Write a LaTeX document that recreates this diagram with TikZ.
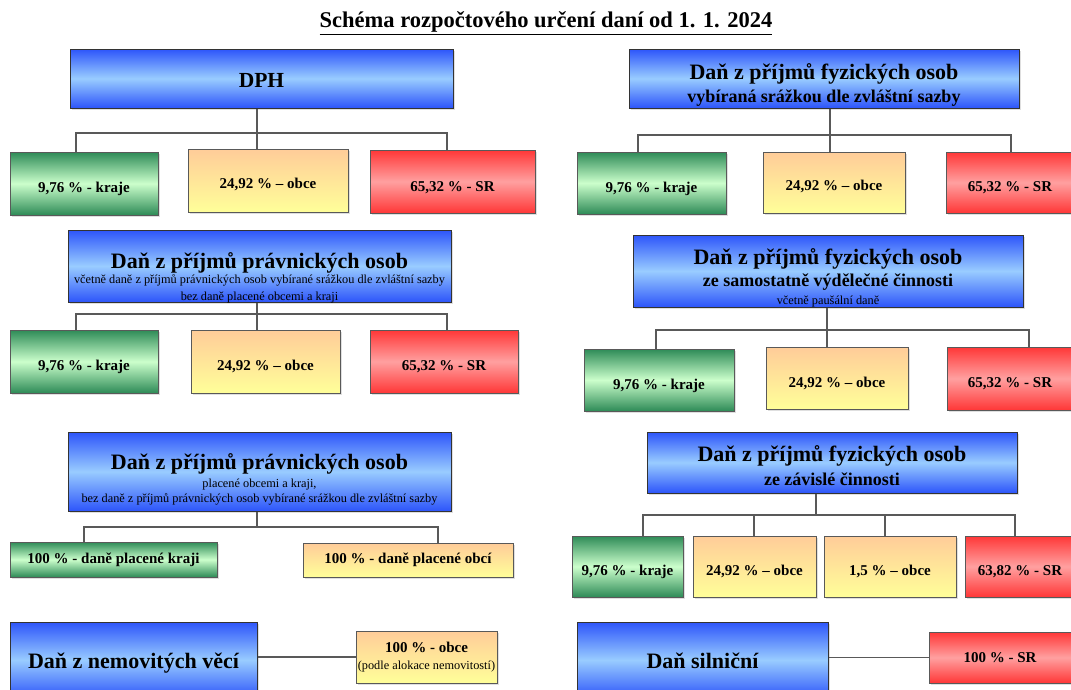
\documentclass[tikz,border=0pt]{standalone}
\usepackage{fontspec}
\setmainfont{Liberation Serif}
\usetikzlibrary{calc,shadows}
\definecolor{modra}{RGB}{45,85,250}
\definecolor{svmodra}{RGB}{153,204,255}
\definecolor{zelena}{RGB}{46,139,87}
\definecolor{svzelena}{RGB}{204,255,204}
\definecolor{oranz}{RGB}{255,204,153}
\definecolor{zluta}{RGB}{255,255,153}
\definecolor{cervena}{RGB}{255,55,55}
\definecolor{svcervena}{RGB}{255,160,160}
\newcommand{\velky}{\fontsize{22}{24}\selectfont\bfseries}
\newcommand{\stredni}{\fontsize{18}{24}\selectfont\bfseries}
\newcommand{\drobny}{\fontsize{12.3}{17}\selectfont\mdseries}
\tikzset{
	box/.style={draw=black!65,line width=1pt,align=center,inner sep=1pt,
		drop shadow={opacity=0.25,shadow xshift=1.5pt,shadow yshift=-1.5pt}},
	hlava/.style={box,draw=black!80,top color=modra,bottom color=modra,middle color=svmodra,font=\fontsize{12}{24}\selectfont},
	posun/.style={text height=#1,text depth=0pt},
	kraj/.style={box,top color=zelena,bottom color=zelena,middle color=svzelena,font=\fontsize{15}{17}\selectfont\bfseries},
	obec/.style={box,top color=oranz,bottom color=zluta,font=\fontsize{15}{17}\selectfont\bfseries},
	stat/.style={box,top color=cervena,bottom color=cervena,middle color=svcervena,font=\fontsize{15}{17}\selectfont\bfseries},
	spoj/.style={draw=black!65,line width=1.1pt}
}
\begin{document}
\begin{tikzpicture}[x=1pt,y=-1pt]
	\fill[white] (0,0) rectangle (1071,689);
	\useasboundingbox (0,0) rectangle (1071,689);
	\clip (0,0) rectangle (1071,689);
	\node[font=\fontsize{22.5}{24}\selectfont\bfseries] (nadpis) at (546,23) {\underline{Schéma rozpočtového určení daní od 1. 1. 2024}};
	% DPH
	\node[hlava,posun=17pt,minimum width=383,minimum height=59] (dph) at (261.5,78.5) {\fontsize{21.5}{24}\selectfont\bfseries DPH};
	\node[kraj,posun=18pt,minimum width=148,minimum height=63] (k1) at (84,183.5) {9,76 \% - kraje};
	\node[obec,posun=16pt,minimum width=160,minimum height=63] (o1) at (268,180.5) {24,92 \% -- obce};
	\node[stat,posun=20pt,minimum width=165,minimum height=63] (s1) at (452.5,181.5) {65,32 \% - SR};
	\draw[spoj] (257,0 |- dph.south) -- (257,133);
	\draw[spoj] (76,0 |- k1.north) |- (447,133) -- (447,0 |- s1.north);
	\draw[spoj] (257,0 |- o1.north) -- (257,133);
	% DPFO srazkova
	\node[hlava,posun=48pt,minimum width=390,minimum height=59] (fs) at (824,78.5) {\velky Daň z příjmů fyzických osob\\[-1pt] \stredni vybíraná srážkou dle zvláštní sazby};
	\node[kraj,posun=18pt,minimum width=149,minimum height=62] (k2) at (651.5,183) {9,76 \% - kraje};
	\node[obec,posun=16pt,minimum width=142,minimum height=61] (o2) at (834,182.5) {24,92 \% -- obce};
	\node[stat,posun=18pt,minimum width=128,minimum height=61] (s2) at (1010,182.5) {65,32 \% - SR};
	\draw[spoj] (830,0 |- fs.south) -- (830,0 |- o2.north);
	\draw[spoj] (638,0 |- k2.north) |- (1011,135) -- (1011,0 |- s2.north);
	% DPPO
	\node[hlava,posun=68pt,font=\fontsize{12}{17}\selectfont,minimum width=383,minimum height=72] (pp) at (259.5,266) {\velky Daň z příjmů právnických osob\\[-2pt] \drobny včetně daně z příjmů právnických osob vybírané srážkou dle zvláštní sazby\\ \drobny bez daně placené obcemi a kraji};
	\node[kraj,posun=18pt,minimum width=148,minimum height=63] (k3) at (84,361.5) {9,76 \% - kraje};
	\node[obec,posun=18pt,minimum width=149,minimum height=63] (o3) at (265.5,361.5) {24,92 \% -- obce};
	\node[stat,posun=18pt,minimum width=148,minimum height=63] (s3) at (444,361.5) {65,32 \% - SR};
	\draw[spoj] (257,0 |- pp.south) -- (257,0 |- o3.north);
	\draw[spoj] (76,0 |- k3.north) |- (447,314) -- (447,0 |- s3.north);
	% DPFO OSVC
	\node[hlava,posun=66pt,font=\fontsize{12}{18}\selectfont,minimum width=390,minimum height=72] (fsv) at (828,271) {\velky Daň z příjmů fyzických osob\\[4pt] \stredni ze samostatně výdělečné činnosti\\ \drobny včetně paušální daně};
	\node[kraj,posun=18pt,minimum width=150,minimum height=62] (k4) at (659,380) {9,76 \% - kraje};
	\node[obec,posun=18pt,minimum width=142,minimum height=62] (o4) at (837,378) {24,92 \% -- obce};
	\node[stat,posun=18pt,minimum width=126,minimum height=63] (s4) at (1010,378.5) {65,32 \% - SR};
	\draw[spoj] (827,0 |- fsv.south) -- (827,0 |- o4.north);
	\draw[spoj] (656,0 |- k4.north) |- (1029,330) -- (1029,0 |- s4.north);
	% DPPO placena obcemi a kraji
	\node[hlava,posun=62pt,font=\fontsize{12}{15}\selectfont,minimum width=383,minimum height=79] (pp2) at (259.5,471.5) {\velky Daň z příjmů právnických osob\\[3pt] \drobny placené obcemi a kraji,\\ \drobny bez daně z příjmů právnických osob vybírané srážkou dle zvláštní sazby};
	\node[kraj,minimum width=207,minimum height=35] (k5) at (113.5,559.5) {100 \% - daně placené kraji};
	\node[obec,minimum width=210,minimum height=34] (o5) at (408,560) {100 \% - daně placené obcí};
	\draw[spoj] (257,0 |- pp2.south) -- (257,527);
	\draw[spoj] (84,0 |- k5.north) |- (438,527) -- (438,0 |- o5.north);
	% DPFO zavisla cinnost
	\node[hlava,posun=45pt,minimum width=370,minimum height=61] (fz) at (832,462.5) {\velky Daň z příjmů fyzických osob\\ \stredni ze závislé činnosti};
	\node[kraj,posun=18pt,minimum width=111,minimum height=61] (k6) at (627.5,566.5) {9,76 \% - kraje};
	\node[obec,posun=18pt,minimum width=123,minimum height=61] (o6) at (754.5,566.5) {24,92 \% -- obce};
	\node[obec,posun=18pt,minimum width=132,minimum height=61] (o7) at (890,566.5) {1,5 \% -- obce};
	\node[stat,posun=18pt,minimum width=110,minimum height=61] (s6) at (1020,566.5) {63,82 \% - SR};
	\draw[spoj] (816,0 |- fz.south) -- (816,515);
	\draw[spoj] (643,0 |- k6.north) |- (1015,515) -- (1015,0 |- s6.north);
	\draw[spoj] (754,0 |- o6.north) -- (754,515);
	\draw[spoj] (885,0 |- o7.north) -- (885,515);
	% nemovite veci
	\node[hlava,posun=17pt,minimum width=247,minimum height=76] (nem) at (133.5,660) {\velky Daň z nemovitých věcí};
	\node[obec,minimum width=141,minimum height=52] (o8) at (426.5,657) {100 \% - obce\\ \drobny (podle alokace nemovitostí)};
	\draw[spoj] (o8.west -| nem.east) -- (o8.west);
	% silnicni
	\node[hlava,posun=17pt,minimum width=251,minimum height=76] (sil) at (702.5,660) {\velky Daň silniční};
	\node[stat,minimum width=142,minimum height=51] (s8) at (1000,657.5) {100 \% - SR};
	\draw[spoj] (s8.west -| sil.east) -- (s8.west);
\end{tikzpicture}
\end{document}
